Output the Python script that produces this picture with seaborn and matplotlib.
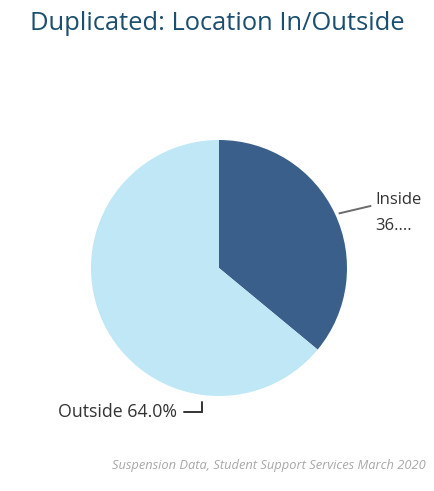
import matplotlib
matplotlib.use("Agg")
import matplotlib.pyplot as plt
import seaborn as sns
import numpy as np

categories = ["Inside", "Outside"]
values = [36.0, 64.0]
colors = ["#3b5f8b", "#bfe7f6"]
title = "Duplicated: Location In/Outside"
footer = "Suspension Data, Student Support Services March 2020"

sns.set_theme(style="white")
plt.rcParams["font.family"] = ["Open Sans", "DejaVu Sans"]

W, H = 434, 491
fig = plt.figure(figsize=(W / 100, H / 100), dpi=100)
fig.patch.set_facecolor("white")

cx, cy, r = 219, 268, 128
ax = fig.add_axes([(cx - r) / W, (H - cy - r) / H, 2 * r / W, 2 * r / H])
wedges, _ = ax.pie(values, colors=colors, startangle=90, counterclock=False,
                   radius=1, wedgeprops=dict(linewidth=0))
ax.set_xlim(-1, 1)
ax.set_ylim(-1, 1)
ax.axis("off")

# Inside label
w0 = wedges[0]
mid = np.deg2rad((w0.theta1 + w0.theta2) / 2)
ex, ey = np.cos(mid), np.sin(mid)
ax.plot([ex + 0.03, 1.19], [ey + 0.0, ey + 0.06], color="#6b6b6b", lw=1.4,
        clip_on=False, solid_capstyle="butt")
ax.text(1.22, 0.43, f"{categories[0]}\n{values[0]:.0f}....", ha="left", va="center",
        fontsize=12, color="#333333", linespacing=1.85, clip_on=False)

# Outside label
ax.plot([-0.133, -0.133, -0.27], [-1.05, -1.125, -1.125], color="#333333", lw=1.4,
        clip_on=False, solid_joinstyle="miter")
ax.text(-0.33, -1.125, f"{categories[1]} {values[1]:.1f}%", ha="right", va="center",
        fontsize=12.8, color="#333333", clip_on=False)

fig.text(217 / W, 1 - 23 / H, title, ha="center", va="center", fontsize=18.4,
         color="#1b4f70")
fig.text(426 / W, 1 - 466 / H, footer, ha="right", va="center", fontsize=9.3,
         color="#a8a8a8", style="italic")

fig.savefig("out.png", dpi=100, facecolor="white")
